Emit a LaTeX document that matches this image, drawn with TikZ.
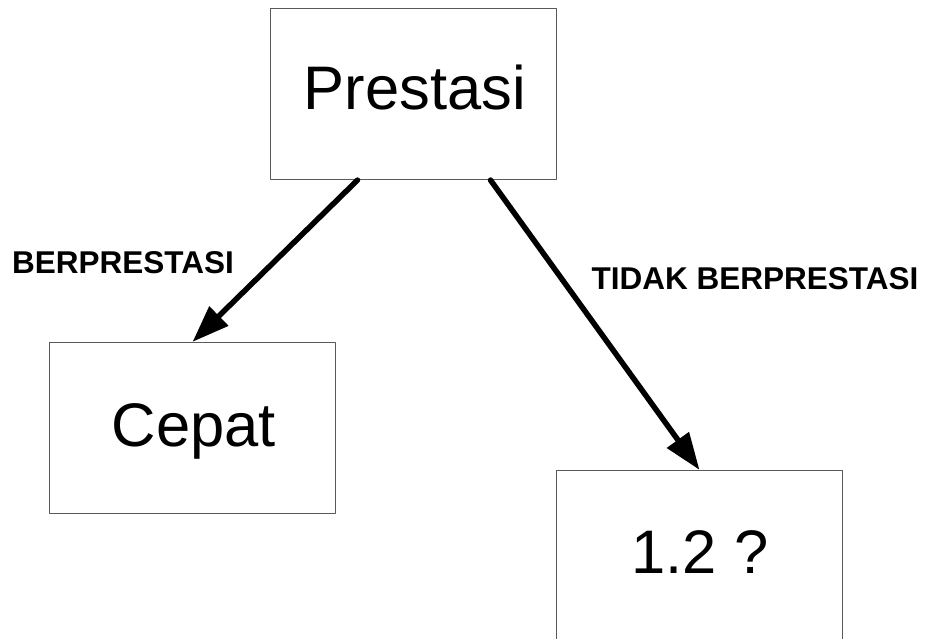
\documentclass[tikz,border=0pt]{standalone}
\usepackage{fontspec}
\setmainfont{Liberation Sans}
\usetikzlibrary{arrows.meta}
\definecolor{bordgr}{rgb}{0.35,0.35,0.35}

\begin{document}
\begin{tikzpicture}[line cap=round,line join=round,x=1pt,y=-1pt,
  kotak/.style={draw=bordgr,line width=1.2pt,minimum width=286pt,minimum height=171pt,inner sep=0pt,font=\fontsize{61.5}{72}\selectfont},
  panah/.style={line width=5.5pt,-{Triangle[length=37pt,width=26pt]}},
  ket/.style={font=\fontsize{31.5}{36}\selectfont\bfseries}]
\useasboundingbox (0,0) rectangle (926,639);
\node[kotak] (pres) at (413.5,94) {};
\node[kotak] (cep) at (192.5,428) {};
\node[kotak] (tanya) at (699.5,556) {};
\node[font=\fontsize{61.5}{72}\selectfont] (tpres) at (415,88) {Prestasi};
\node[font=\fontsize{61.5}{72}\selectfont] (tcep) at (194,431) {Cepat};
\node[font=\fontsize{61.5}{72}\selectfont] (ttanya) at (700,552) {1.2 ?};
\draw [panah] ([xshift=-56pt]pres.south) -- (cep.north);
\draw [panah] ([xshift=77pt]pres.south) -- (tanya.north);
\node[ket] (ya) at (123,263) {BERPRESTASI};
\node[ket] (tidak) at (755,279) {TIDAK BERPRESTASI};
\end{tikzpicture}
\end{document}
